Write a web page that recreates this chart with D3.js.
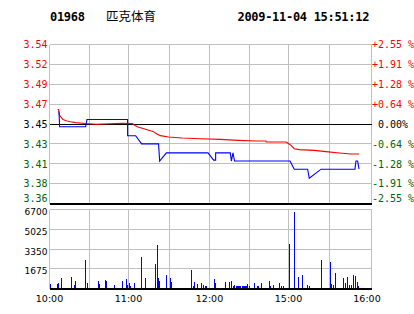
<!DOCTYPE html>
<meta charset="utf-8">
<style>
    body { margin: 0; background: #fff; }
    svg { display: block; }
    .grid line { stroke: #c0c0c0; shape-rendering: crispEdges; }
    .axis-line { stroke: #000; shape-rendering: crispEdges; }
    .mono { font-family: "DejaVu Sans Mono", monospace; font-size: 10px; }
    .sans { font-family: "DejaVu Sans", sans-serif; }
</style>
<svg width="414" height="314"></svg>
<script src="https://d3js.org/d3.v7.min.js"></script>
<script>
    var stockCode = "01968";
    var stockName = "匹克体育";
    var stamp = "2009-11-04 15:51:12";
    var prevClose = 3.45;

    // percent ticks on the right, matching price ticks on the left
    var pctTicks = [2.55, 1.91, 1.28, 0.64, 0, -0.64, -1.28, -1.91, -2.55];
    var priceTicks = ["3.54", "3.52", "3.49", "3.47", "3.45", "3.43", "3.41", "3.38", "3.36"];
    var volTicks = [6700, 5025, 3350, 1675, 0];
    // trading clock in minutes from 10:00 (12:30-14:30 lunch removed)
    var gridMinutes = [0, 30, 60, 90, 120, 150, 180, 210, 240];
    var timeTicks = [0, 60, 120, 180, 240];
    var timeLabels = ["10:00", "11:00", "12:00", "15:00", "16:00"];

    // price line [minute, price]
    var priceLine = [
        [7.1, 3.464], [7.6, 3.447], [27.1, 3.447], [28.1, 3.455], [59.3, 3.455],
        [59.3, 3.437], [65.2, 3.437], [69.6, 3.428], [82.0, 3.428], [82.8, 3.409],
        [87.7, 3.418], [118.9, 3.418], [123.1, 3.410], [124.6, 3.410], [124.6, 3.418],
        [135.6, 3.418], [136.4, 3.409], [137.6, 3.418], [138.8, 3.409], [181.1, 3.409],
        [184.2, 3.400], [194.0, 3.400], [195.2, 3.390], [203.8, 3.400], [228.2, 3.400],
        [228.9, 3.409], [230.1, 3.409], [231.1, 3.400]
    ];

    // average price line [minute, price]
    var avgLine = [
        [6.1, 3.466], [6.8, 3.466], [7.4, 3.460], [8.9, 3.457], [10.1, 3.455],
        [12.6, 3.4536], [15.6, 3.4525], [19.6, 3.4515], [26.9, 3.4505], [35, 3.4498],
        [45, 3.4503], [55, 3.4507], [62.8, 3.4505], [64.5, 3.4485], [67.0, 3.4467],
        [69.4, 3.4456], [71.8, 3.4445], [74.3, 3.4434], [76.0, 3.4425], [77.9, 3.4418],
        [80.8, 3.4389], [83.3, 3.4371], [89.3, 3.4356], [99.4, 3.4345], [113.1, 3.4337],
        [128.1, 3.4330], [141.6, 3.4319], [155.2, 3.4312], [162.7, 3.4312], [162.9, 3.4301],
        [178.1, 3.4301], [179.3, 3.4290], [181.8, 3.4263], [184.2, 3.4227], [187.9, 3.4216],
        [198.9, 3.4208], [207.4, 3.4194], [217.0, 3.4179], [225.4, 3.4168], [231.3, 3.4168]
    ];

    // volume [minute, shares]
    var volume = [
        [0.75, 360], [6.0, 360], [6.75, 444], [9.0, 863], [16.5, 946], [18.75, 276],
        [19.5, 611], [27.0, 2370], [28.5, 444], [36.9, 611], [37.7, 360], [42.3, 695],
        [43.1, 611], [49.2, 276], [55.4, 611], [58.5, 779], [59.2, 276], [60.7, 444],
        [61.5, 193], [64.4, 444], [69.5, 2621], [72.4, 863], [79.8, 2035], [81.2, 3626],
        [82.0, 863], [82.7, 611], [87.8, 1114], [90.75, 863], [91.5, 528], [106.5, 1533],
        [108.0, 193], [108.75, 528], [111.0, 360], [114.0, 444], [115.5, 276], [117.0, 193],
        [117.75, 193], [123.75, 779], [124.5, 444], [132.0, 528], [135.0, 528], [136.5, 611],
        [138.0, 193], [138.75, 276], [140.25, 193], [141.0, 193], [141.75, 193], [142.5, 193],
        [143.25, 193], [144.75, 193], [145.5, 193], [146.25, 193], [147.0, 193], [147.75, 193],
        [148.5, 360], [150.0, 193], [153.8, 444], [156.2, 193], [156.9, 193], [159.2, 444],
        [165.4, 611], [166.2, 193], [168.5, 276], [173.1, 444], [174.6, 193], [176.2, 193],
        [180.7, 3710], [184.4, 6474], [187.3, 946], [190.2, 1114], [193.9, 276], [195.4, 193],
        [204.1, 2370], [210.7, 2203], [211.4, 360], [212.9, 276], [214.3, 1281], [220.0, 863],
        [221.4, 444], [222.9, 946], [224.3, 276], [225.7, 276], [227.1, 1114], [228.6, 1030],
        [230.0, 528], [230.7, 193]
    ];

    var svg = d3.select("svg");
    var red = "#ff0000", green = "#006400";

    // x: the grid columns are not evenly spaced in the original, so piecewise
    var x = d3.scaleLinear()
        .domain(gridMinutes)
        .range([49.5, 89.5, 128.5, 169.5, 209.5, 249.5, 288.5, 329.5, 371.5]);

    var yPct = d3.scaleLinear().domain([-2.55, 2.55]).range([203.5, 44.5]);
    function yPrice(p) { return yPct((p / prevClose - 1) * 100); }

    var yVol = d3.scaleLinear().domain([0, 6700]).range([288.5, 209.5]);

    // header
    svg.append("text").attr("x", 50).attr("y", 21)
        .attr("font-family", "DejaVu Sans Mono").attr("font-weight", "bold")
        .attr("font-size", 12).attr("letter-spacing", -0.3)
        .text(stockCode);
    svg.append("text").attr("x", 106).attr("y", 20.5)
        .attr("font-family", "Noto Sans CJK SC").attr("font-size", 12.5)
        .text(stockName);
    svg.append("text").attr("x", 237.5).attr("y", 21)
        .attr("font-family", "DejaVu Sans Mono").attr("font-weight", "bold")
        .attr("font-size", 12).attr("letter-spacing", -0.3)
        .text(stamp);

    // grids
    var grid = svg.append("g").attr("class", "grid");
    grid.selectAll("line.v").data(gridMinutes).enter().append("line")
        .attr("x1", function (d) { return x(d); }).attr("x2", function (d) { return x(d); })
        .attr("y1", yPct(2.55)).attr("y2", yPct(-2.55));
    grid.selectAll("line.h").data(pctTicks).enter().append("line")
        .attr("x1", x(0)).attr("x2", x(240))
        .attr("y1", function (d) { return yPct(d); }).attr("y2", function (d) { return yPct(d); });
    grid.selectAll("line.vv").data(gridMinutes).enter().append("line")
        .attr("x1", function (d) { return x(d); }).attr("x2", function (d) { return x(d); })
        .attr("y1", yVol(6700)).attr("y2", yVol(0));
    grid.selectAll("line.hv").data(volTicks).enter().append("line")
        .attr("x1", x(0)).attr("x2", x(240))
        .attr("y1", function (d) { return yVol(d); }).attr("y2", function (d) { return yVol(d); });

    // black reference lines
    svg.append("line").attr("class", "axis-line")
        .attr("x1", x(0)).attr("x2", x(240)).attr("y1", yPct(0)).attr("y2", yPct(0));
    svg.append("line").attr("class", "axis-line").attr("stroke-width", 2)
        .attr("x1", x(0)).attr("x2", x(240) + 0.5).attr("y1", yPct(-2.55)).attr("y2", yPct(-2.55));
    svg.append("line").attr("class", "axis-line").attr("stroke-width", 2)
        .attr("x1", x(0)).attr("x2", x(240) + 0.5).attr("y1", yVol(0)).attr("y2", yVol(0));

    function tickColour(d) { return d > 0 ? red : (d < 0 ? green : "#000"); }
    // the lowest label is lifted so it clears the panel's bottom edge
    function labelY(d) { return Math.min(yPct(d), 198.5) + 3.6; }

    // left price labels
    svg.append("g").attr("class", "mono").selectAll("text").data(pctTicks).enter().append("text")
        .attr("x", 47.5).attr("y", labelY)
        .attr("text-anchor", "end")
        .attr("fill", tickColour)
        .text(function (d, i) { return priceTicks[i]; });

    // right percent labels
    svg.append("g").attr("class", "mono").selectAll("text").data(pctTicks).enter().append("text")
        .attr("x", function (d) { return d === 0 ? 378 : 372; })
        .attr("y", labelY)
        .attr("fill", tickColour)
        .text(function (d) {
            if (d === 0) return "0.00%";
            return (d > 0 ? "+" : "-") + Math.abs(d).toFixed(2) + " %";
        });

    // volume labels
    svg.append("g").attr("class", "sans").attr("font-size", 9).selectAll("text")
        .data(volTicks.filter(function (d) { return d > 0; })).enter().append("text")
        .attr("x", 47.5).attr("y", function (d) { return yVol(d) + 5.5; })
        .attr("text-anchor", "end")
        .text(function (d) { return d; });

    // time labels
    svg.append("g").attr("class", "sans").attr("font-size", 9.5).selectAll("text")
        .data(timeTicks).enter().append("text")
        .attr("x", function (d) { return Math.min(x(d), 367); })
        .attr("y", 302)
        .attr("text-anchor", "middle")
        .text(function (d, i) { return timeLabels[i]; });

    // volume bars
    svg.append("g").selectAll("rect").data(volume).enter().append("rect")
        .attr("x", function (d) { return Math.floor(x(d[0])); })
        .attr("width", 1)
        .attr("y", function (d) { return Math.round(yVol(d[1]) - 0.5); })
        .attr("height", function (d) { return Math.round(yVol(0) - 0.5) - Math.round(yVol(d[1]) - 0.5); })
        .attr("fill", "#0000ff")
        .attr("shape-rendering", "crispEdges");

    var line = d3.line()
        .x(function (d) { return x(d[0]); })
        .y(function (d) { return yPrice(d[1]); });

    svg.append("path").datum(avgLine)
        .attr("d", line).attr("fill", "none").attr("stroke", red).attr("stroke-width", 1.1);
    svg.append("path").datum(priceLine)
        .attr("d", line).attr("fill", "none").attr("stroke", "#0000ff").attr("stroke-width", 1.1);
</script>
